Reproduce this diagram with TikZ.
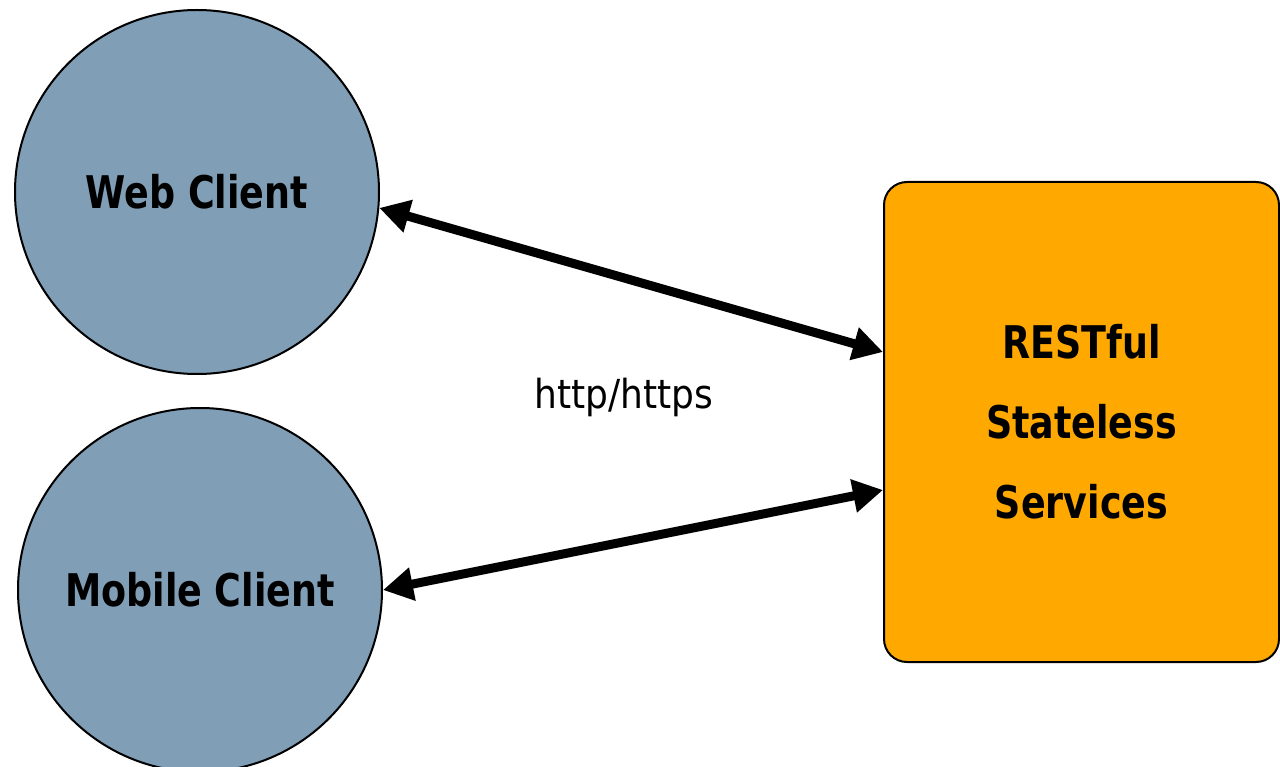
\documentclass[tikz,border=0pt]{standalone}
\usepackage{fontspec}
\usetikzlibrary{arrows.meta}
\newfontfamily\lblfont{DejaVu Sans Condensed}[FakeStretch=0.9]
\newfontfamily\httpfont{DejaVu Sans Condensed}
\definecolor{clientblue}{RGB}{128,158,181}
\definecolor{restorange}{RGB}{255,168,0}
\begin{document}
\begin{tikzpicture}[x=1pt,y=-1pt,
  client/.style={circle,draw=black,line width=2pt,fill=clientblue,minimum size=364pt,inner sep=0pt,
    font=\lblfont\bfseries\fontsize{45}{54}\selectfont},
  service/.style={rectangle,rounded corners=23pt,draw=black,line width=2pt,fill=restorange,
    minimum width=395pt,minimum height=480pt,inner sep=0pt,align=center,
    font=\lblfont\bfseries\fontsize{45}{80}\selectfont},
  link/.style={line width=9pt,{Triangle[length=30pt,width=32pt]}-{Triangle[length=30pt,width=32pt]}}]
\useasboundingbox (0,0) rectangle (1280,767);
\node[client] (web) at (197,192) {Web Client};
\node[client] (mobile) at (200,590) {Mobile Client};
\node[service] (rest) at (1081.5,422) {RESTful\\Stateless\\Services};
\node[font=\httpfont\fontsize{40}{48}\selectfont] (http) at (624,397) {http/https};
\draw[link] (web.-5) -- ([yshift=70pt]rest.west);
\draw[link] (mobile.east) -- ([yshift=-68pt]rest.west);
\end{tikzpicture}
\end{document}
